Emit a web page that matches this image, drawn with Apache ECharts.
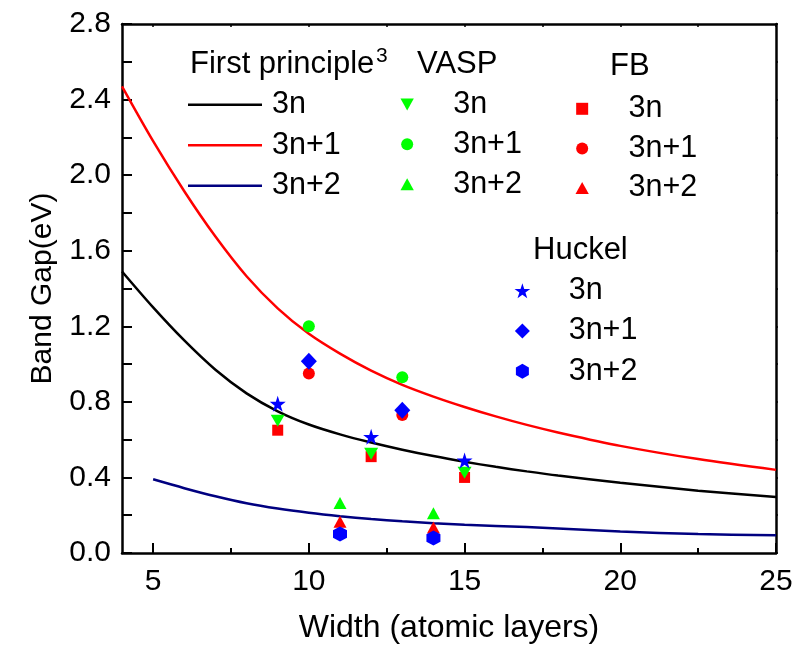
<!DOCTYPE html>
<html><head><meta charset="utf-8">
<script src="https://cdn.jsdelivr.net/npm/echarts@6/dist/echarts.min.js"></script>
<style>html,body{margin:0;padding:0;background:#fff}#c{width:798px;height:651px}</style>
</head><body><div id="c"></div>
<script>
// ---- data ----
const fpWidth = [4,5,6,7,8,9,10,11,12,13,14,15,16,17,18,20,22.5,25];
const fp3n    = [1.49,1.30,1.125,0.97,0.845,0.75,0.68,0.628,0.585,0.547,0.513,0.483,0.456,0.432,0.41,0.372,0.33,0.296];
const fp3n1   = [2.47,2.18,1.915,1.675,1.465,1.295,1.16,1.055,0.965,0.89,0.828,0.773,0.723,0.678,0.638,0.567,0.497,0.44];
const fp3n2Width = [5,6,7,8,9,10,11,12,13,14,15,17,20,22.5,25];
const fp3n2   = [0.39,0.343,0.30,0.263,0.235,0.213,0.195,0.18,0.168,0.158,0.15,0.137,0.114,0.1,0.094];

const w3n  = [9,12,15];
const w3n1 = [10,13];
const w3n2 = [11,14];

const vasp3n  = [0.70,0.525,0.425];
const vasp3n1 = [1.20,0.93];
const vasp3n2 = [0.265,0.21];

const fb3n  = [0.65,0.51,0.40];
const fb3n1 = [0.95,0.73];
const fb3n2 = [0.165,0.135];

const huckel3n  = [0.79,0.615,0.49];
const huckel3n1 = [1.015,0.755];
const huckel3n2 = [0.10,0.08];

const xLabelTicks = [5,10,15,20,25];
const xMinorTicks = [7.5,12.5,17.5,22.5];
const xAllTicks = [5,7.5,10,12.5,15,17.5,20,22.5,25];
const yAllTicks = [0,0.2,0.4,0.6,0.8,1.0,1.2,1.4,1.6,1.8,2.0,2.2,2.4,2.6,2.8];

// ---- helpers ----
const zip = (xs, ys) => xs.map((x, i) => [x, ys[i]]);
const FONT = '"Liberation Sans", Arial, sans-serif';
const STAR = 'path://M50,0 L61.2,34.5 L97.6,34.5 L68.2,55.9 L79.4,90.5 L50,69.1 L20.6,90.5 L31.8,55.9 L2.4,34.5 L38.8,34.5 Z';
const HEX = 'path://M50,0 L93.3,25 L93.3,75 L50,100 L6.7,75 L6.7,25 Z';
const DOWN = 'path://M0,0 L100,0 L50,90 Z';
const UP = 'path://M50,0 L100,90 L0,90 Z';
const SQUARE = 'path://M0,0 L100,0 L100,100 L0,100 Z';
const DIAMOND = 'path://M50,0 L100,50 L50,100 L0,50 Z';
const CIRCLE = 'circle';
const LINEICON = 'path://M0,0 L100,0 L100,3.4 L0,3.4 Z';
const RED = '#ff0000', GREEN = '#00ff00', BLUE = '#0000ff';

function lineS(name, xs, ys, color) {
  return {name, type:'line', data: zip(xs, ys), symbol:'none', smooth:0.3,
    lineStyle:{color, width:2.5}, itemStyle:{color}, z:2, silent:true};
}
function scat(name, xs, ys, color, symbol, size) {
  return {name, type:'scatter', data: zip(xs, ys), symbol, symbolSize:size,
    itemStyle:{color, opacity:1}, z:3, silent:true};
}

const legendText = {fontSize:30.5, fontFamily:FONT, color:'#000', lineHeight:30};
const fmt = n => n.split('|')[1];

const option = {
  backgroundColor:'#fff',
  animation:false,
  grid:{left:122, right:22, top:24, bottom:98, containLabel:false, outerBoundsMode:'none'},
  xAxis:[
    {type:'value', position:'bottom', min:4, max:25,
     name:'Width (atomic layers)', nameLocation:'middle', nameGap:59,
     nameTextStyle:{fontSize:32, fontFamily:FONT, color:'#000'},
     axisLine:{onZero:false, lineStyle:{color:'#000', width:2.5}},
     axisTick:{inside:true, length:10, customValues:xLabelTicks, lineStyle:{color:'#000', width:2}},
     axisLabel:{customValues:xLabelTicks, margin:14, fontSize:30, fontFamily:FONT, color:'#000'},
     splitLine:{show:false}},
    {type:'value', position:'bottom', min:4, max:25,
     axisLine:{show:false},
     axisTick:{inside:true, length:5, customValues:xMinorTicks, lineStyle:{color:'#000', width:2}},
     axisLabel:{show:false}, splitLine:{show:false}},
    {type:'value', position:'top', min:4, max:25,
     axisLine:{onZero:false, lineStyle:{color:'#000', width:2.5}},
     axisTick:{inside:true, length:3, customValues:xAllTicks, lineStyle:{color:'#000', width:1.5}},
     axisLabel:{show:false}, splitLine:{show:false}}
  ],
  yAxis:[
    {type:'value', position:'left', min:0, max:2.8, interval:0.4,
     name:'Band Gap(eV)', nameLocation:'middle', nameGap:64,
     nameTextStyle:{fontSize:30, fontFamily:FONT, color:'#000'},
     axisLine:{show:true, onZero:false, lineStyle:{color:'#000', width:2.5}},
     axisTick:{show:true, inside:true, length:10, customValues:yAllTicks, lineStyle:{color:'#000', width:2}},
     axisLabel:{margin:11, fontSize:30, fontFamily:FONT, color:'#000', formatter:v => v.toFixed(1)},
     splitLine:{show:false}},
    {type:'value', position:'right', min:0, max:2.8, interval:0.4,
     axisLine:{show:true, onZero:false, lineStyle:{color:'#000', width:2.5}},
     axisTick:{show:true, inside:false, length:2, customValues:yAllTicks, lineStyle:{color:'#000', width:1.5}},
     axisLabel:{show:false}, splitLine:{show:false}}
  ],
  legend:[
    {data:['FP|3n','FP|3n+1','FP|3n+2'].map(n => ({name:n, icon:LINEICON})),
     orient:'vertical', left:188, top:89.3, padding:0,
     itemWidth:74, itemHeight:12, itemGap:9.5, selectedMode:false, formatter:fmt,
     textStyle:Object.assign({padding:[0,0,0,5]}, legendText)},
    {data:['VASP|3n','VASP|3n+1','VASP|3n+2'],
     orient:'vertical', left:400.5, top:89, padding:0,
     itemWidth:82, itemHeight:12, itemGap:8.85, selectedMode:false, formatter:fmt, textStyle:legendText},
    {data:['FB|3n','FB|3n+1','FB|3n+2'],
     orient:'vertical', left:575.5, top:93.3, padding:0,
     itemWidth:82.6, itemHeight:12, itemGap:8.6, selectedMode:false, formatter:fmt, textStyle:legendText},
    {data:['Huckel|3n','Huckel|3n+1','Huckel|3n+2'],
     orient:'vertical', left:514.5, top:275.3, padding:0,
     itemWidth:82.6, itemHeight:15, itemGap:9.2, selectedMode:false, formatter:fmt, textStyle:legendText}
  ],
  graphic:[
    {type:'text', x:190, y:64, style:{text:'First principle', fontSize:31, fontFamily:FONT, fill:'#000', align:'left', verticalAlign:'middle'}},
    {type:'text', x:376, y:56, style:{text:'3', fontSize:21, fontFamily:FONT, fill:'#000', align:'left', verticalAlign:'middle'}},
    {type:'text', x:417, y:64, style:{text:'VASP', fontSize:31, fontFamily:FONT, fill:'#000', align:'left', verticalAlign:'middle'}},
    {type:'text', x:610, y:66.5, style:{text:'FB', fontSize:31, fontFamily:FONT, fill:'#000', align:'left', verticalAlign:'middle'}},
    {type:'text', x:533, y:250, style:{text:'Huckel', fontSize:31, fontFamily:FONT, fill:'#000', align:'left', verticalAlign:'middle'}}
  ],
  series:[
    lineS('FP|3n', fpWidth, fp3n, '#000000'),
    lineS('FP|3n+1', fpWidth, fp3n1, RED),
    lineS('FP|3n+2', fp3n2Width, fp3n2, '#000080'),
    scat('FB|3n', w3n, fb3n, RED, SQUARE, 11),
    scat('FB|3n+1', w3n1, fb3n1, RED, CIRCLE, 12),
    scat('FB|3n+2', w3n2, fb3n2, RED, UP, [13,12]),
    scat('VASP|3n', w3n, vasp3n, GREEN, DOWN, [14,12]),
    scat('VASP|3n+1', w3n1, vasp3n1, GREEN, CIRCLE, 12),
    scat('VASP|3n+2', w3n2, vasp3n2, GREEN, UP, [13,12]),
    scat('Huckel|3n', w3n, huckel3n, BLUE, STAR, 16),
    scat('Huckel|3n+1', w3n1, huckel3n1, BLUE, DIAMOND, [16,17]),
    scat('Huckel|3n+2', w3n2, huckel3n2, BLUE, HEX, [14,15])
  ]
};
const chart = echarts.init(document.getElementById('c'), null, {renderer:'canvas'});
chart.setOption(option);
</script>
</body></html>
